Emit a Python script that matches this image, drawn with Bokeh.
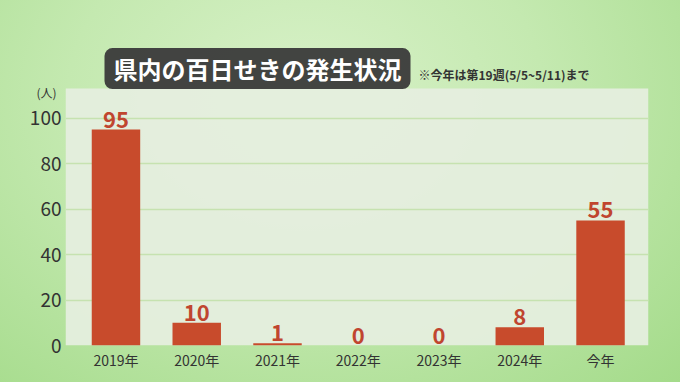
from bokeh.plotting import figure
from bokeh.models import (ColumnDataSource, Label, Range1d, FixedTicker, CustomJSTickFormatter,
                          BoxAnnotation, LinearAxis)
from bokeh.core.properties import value
from bokeh.embed import file_html
from bokeh.resources import INLINE

# ---- data ----
categories = ["2019年", "2020年", "2021年", "2022年", "2023年", "2024年", "今年"]
cases = [95, 10, 1, 0, 0, 8, 55]
y_ticks = [0, 20, 40, 60, 80, 100]
panel_top = 113
title_text = "県内の百日せきの発生状況"
note_text = "※今年は第19週(5/5~5/11)まで"
unit_text = "(人)"
unit_pos = 111.5

FONT = "Noto Sans CJK JP"
BAR = "#c84b2c"
LBL = "#c0452f"

xs = list(range(len(categories)))
src = ColumnDataSource(dict(x=xs, y=cases, lab=[str(v) for v in cases]))

p = figure(width=680, height=382, output_backend="svg", toolbar_location=None,
           x_range=Range1d(-0.625, 6.594), y_range=Range1d(0, 132.4),
           min_border_left=65, min_border_right=32, min_border_top=44, min_border_bottom=37,
           styles={"background": "radial-gradient(ellipse at 45% 25%, #d8f1c8 0%, #c4e9b0 45%, #a4db8a 100%)"})
p.border_fill_color = None
p.background_fill_alpha = 0
p.outline_line_color = None

p.add_layout(BoxAnnotation(bottom=0, top=panel_top, fill_color="#e5eede", fill_alpha=0.95,
                           line_color=None, level="image"))

p.vbar(x="x", top="y", width=0.6, source=src, fill_color=BAR, line_color=None)
p.text(x="x", y="y", text="lab", source=src, text_align="center", text_baseline="bottom",
       y_offset=-2, text_font=value(FONT), text_font_size="22px", text_font_style="bold",
       text_color=LBL, text_line_height=1.0)

# axes
p.xaxis.ticker = FixedTicker(ticks=xs)
p.xaxis.formatter = CustomJSTickFormatter(args=dict(labels=categories),
                                          code="return labels[tick] || '';")
p.yaxis.ticker = FixedTicker(ticks=y_ticks)
for ax in (p.xaxis[0], p.yaxis[0]):
    ax.axis_line_color = None
    ax.major_tick_line_color = None
    ax.minor_tick_line_color = None
    ax.major_tick_out = 0
    ax.major_label_text_font = FONT
    ax.major_label_text_color = "#333333"
p.xaxis.major_label_text_font_size = "14px"
p.xaxis.major_label_standoff = 4
p.yaxis.major_label_text_font_size = "19px"
p.yaxis.major_label_standoff = 4

# unit label as a second left axis with a single tick
unit_axis = LinearAxis(ticker=FixedTicker(ticks=[unit_pos]),
                       major_label_overrides={unit_pos: unit_text},
                       axis_line_color=None, major_tick_line_color=None, minor_tick_line_color=None,
                       major_tick_out=0, major_label_standoff=-30,
                       major_label_text_font=FONT, major_label_text_font_size="12px",
                       major_label_text_color="#333333")
p.add_layout(unit_axis, "left")

p.xgrid.grid_line_color = None
p.ygrid.ticker = FixedTicker(ticks=[20, 40, 60, 80, 100])
p.ygrid.grid_line_color = "#c6e2b0"
p.ygrid.grid_line_width = 1.5

# title box and note
p.add_layout(Label(x=-0.142, y=121.8, text=title_text, text_align="left", text_baseline="middle",
                   text_font=FONT, text_font_size="24px", text_font_style="bold",
                   text_color="white", background_fill_color="#3a3a3a", background_fill_alpha=0.95,
                   border_radius=8, padding=(9, 3)))
p.add_layout(Label(x=3.746, y=119.0, text=note_text, text_align="left", text_baseline="middle",
                   text_font=FONT, text_font_size="12px", text_font_style="bold",
                   text_color="#333333"))

open("out.html", "w").write(file_html(p, INLINE))
